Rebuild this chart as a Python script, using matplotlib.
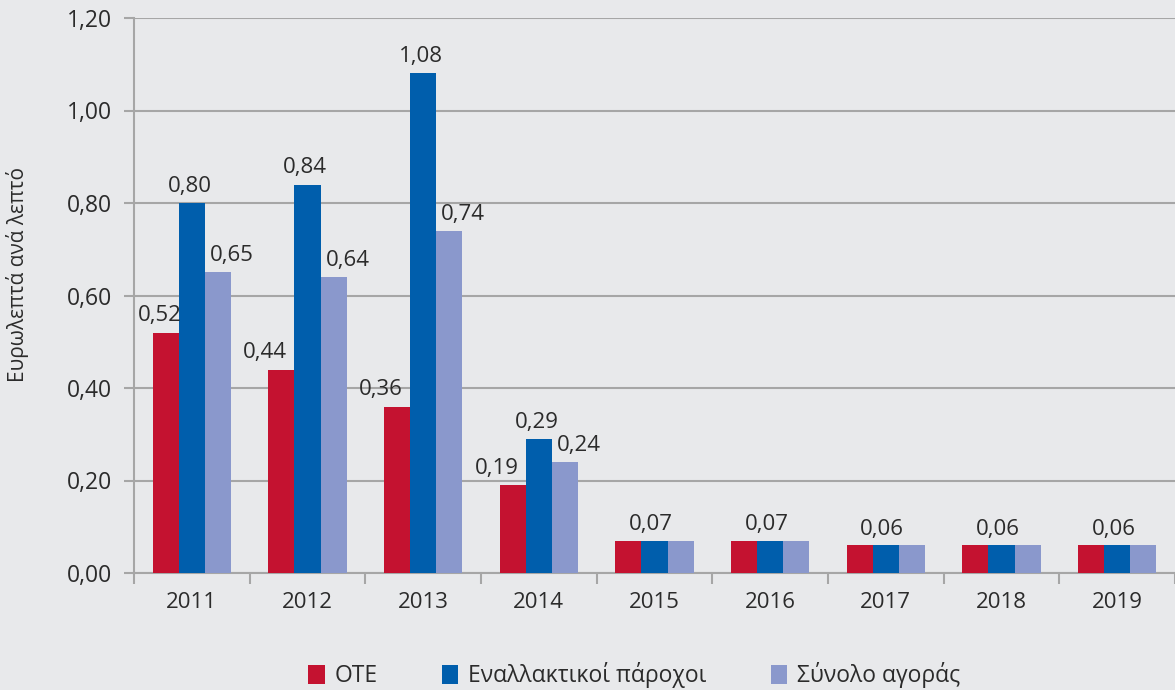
import matplotlib.pyplot as plt
import numpy as np
from matplotlib.patches import Circle

years = ["2011", "2012", "2013", "2014", "2015", "2016", "2017", "2018", "2019"]
ote = [0.52, 0.44, 0.36, 0.19, 0.07, 0.07, 0.06, 0.06, 0.06]
alt = [0.80, 0.84, 1.08, 0.29, 0.07, 0.07, 0.06, 0.06, 0.06]
total = [0.65, 0.64, 0.74, 0.24, 0.07, 0.07, 0.06, 0.06, 0.06]
series_names = ["ΟΤΕ", "Εναλλακτικοί πάροχοι", "Σύνολο αγοράς"]
yticks = [0.0, 0.2, 0.4, 0.6, 0.8, 1.0, 1.2]

bg = "#e8e9eb"
colors = ["#c41230", "#005eac", "#8a98cc"]
text_c = "#2b2b2b"
grid_c = "#a6a6a6"

plt.rcParams['font.family'] = ['Open Sans', 'DejaVu Sans']

fig = plt.figure(figsize=(11.75, 6.9), dpi=100, facecolor=bg)
ax = fig.add_axes([134 / 1175, 1 - 573 / 690, 1 - 134 / 1175, (573 - 18) / 690])
ax.set_facecolor(bg)

# blue arc in the top left corner
fig.patches.append(Circle((-50 / 1175, 830 / 690), 191 / 1175, transform=fig.transFigure,
                          facecolor="#7a93d4", edgecolor="none", zorder=0))

x = np.arange(len(years))
w = 0.225
bars = []
for i, vals in enumerate([ote, alt, total]):
    b = ax.bar(x + (i - 1) * w, vals, w, color=colors[i], label=series_names[i], zorder=3)
    bars.append(b)

def fmt(v):
    return ("%.2f" % v).replace(".", ",")

# label shifts (in category units) for red / blue / lavender labels
shift = [-0.14, -0.02, 0.12]

for j in range(len(years)):
    if ote[j] == alt[j] == total[j]:
        ax.text(x[j] - 0.03, alt[j] + 0.022, fmt(alt[j]), ha="center", va="baseline",
                fontsize=16, color=text_c)
        continue
    for i, vals in enumerate([ote, alt, total]):
        dx = (i - 1) * w + shift[i]
        if i == 0 and j == 0:
            dx = -w - 0.05
        ax.text(x[j] + dx, vals[j] + 0.024, fmt(vals[j]), ha="center", va="baseline",
                fontsize=16, color=text_c)

ax.set_xlim(-0.5, len(years) - 0.5)
ax.set_ylim(0, 1.2)
ax.set_yticks(yticks)
ax.set_yticklabels([fmt(v) for v in yticks], fontsize=16.5, color=text_c)
ax.yaxis.grid(True, color=grid_c, linewidth=1.5, zorder=0)
ax.set_axisbelow(True)

ax.set_xticks(np.arange(len(years) + 1) - 0.5)
ax.set_xticklabels([])
ax.set_xticks(x, minor=True)
ax.set_xticklabels(years, minor=True, fontsize=16, color=text_c)
ax.tick_params(axis="x", which="minor", length=0, pad=14)
ax.tick_params(axis="x", which="major", length=8, width=1.5, color=grid_c)
ax.tick_params(axis="y", length=7, width=1.5, color=grid_c, pad=9)

for s in ["top", "right"]:
    ax.spines[s].set_visible(False)
for s in ["left", "bottom"]:
    ax.spines[s].set_color(grid_c)
    ax.spines[s].set_linewidth(1.5)

fig.text(18 / 1175, 1 - 275 / 690, "Ευρωλεπτά ανά λεπτό", rotation=90, ha="center", va="center",
         fontsize=15, color=text_c)

fig.legend(handles=bars, labels=series_names, loc="center", bbox_to_anchor=(0.54, 1 - 675 / 690),
           ncol=3, frameon=False, fontsize=16.5, handlelength=0.7, handleheight=0.9,
           columnspacing=2.8, handletextpad=0.45, labelcolor=text_c)

fig.savefig("out.png", dpi=100, facecolor=bg)
